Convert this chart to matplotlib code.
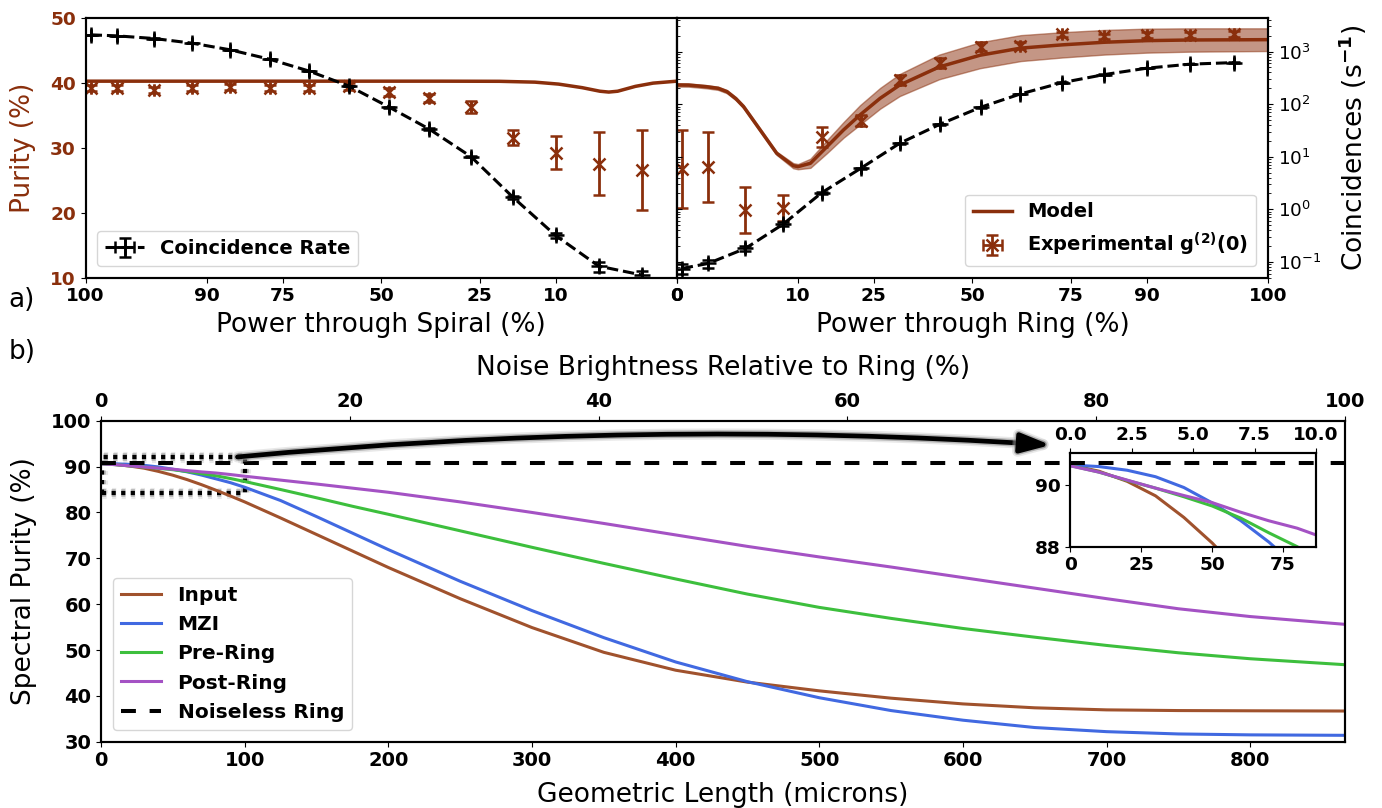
import numpy as np
import matplotlib.pyplot as plt
import matplotlib.patheffects as pe
from matplotlib.patches import Rectangle

plt.rcParams['mathtext.default'] = 'bf'

# ---------------- panel a) ----------------
# heater sweep position, as fraction of a pi/2 phase shift
phase_pts = [0.0085, 0.053, 0.116, 0.180, 0.245, 0.311, 0.377, 0.445,
             0.514, 0.581, 0.652, 0.723, 0.795, 0.868, 0.942]
power_ticks = [0, 10, 25, 50, 75, 90, 100]

# spiral sweep
spiral_rate = [2080, 1990, 1770, 1445, 1077, 716, 429, 222, 87, 33.7, 10.0,
               1.69, 0.318, 0.083, 0.056]
spiral_rate_err = [15, 15, 14, 12, 10, 8, 6, 4, 2.5, 1.0, 0.3, 0.1, 0.03,
                   0.018, 0.01]
spiral_purity = [39.2, 39.2, 38.9, 39.3, 39.4, 39.3, 39.3, 39.5, 38.6, 37.7,
                 36.3, 31.6, 29.3, 27.6, 26.6]
spiral_purity_err = [0.45, 0.45, 0.45, 0.45, 0.45, 0.45, 0.45, 0.5, 0.6, 0.6,
                     0.9, 1.15, 2.5, 4.8, 6.1]
spiral_model_phase = [0, 0.3, 0.6, 0.7, 0.76, 0.80, 0.84, 0.87, 0.885, 0.90,
                      0.93, 0.96, 1.0]
spiral_model = [40.3, 40.3, 40.3, 40.28, 40.15, 39.85, 39.3, 38.75, 38.62,
                38.75, 39.5, 40.0, 40.3]

# ring sweep
ring_rate = [0.0748, 0.0933, 0.180, 0.522, 2.06, 6.0, 18.0, 41.4, 87.3, 156,
             257, 365, 483, 576, 617]
ring_rate_err = [0.015, 0.017, 0.02, 0.04, 0.08, 0.2, 0.4, 0.6, 1.0, 1.3,
                 1.7, 2.0, 2.3, 2.5, 2.6]
ring_purity = [26.7, 27.1, 20.4, 20.8, 31.65, 34.2, 40.5, 43.1, 45.6, 45.8,
               47.5, 47.2, 47.4, 47.4, 47.6]
ring_purity_err = [6.0, 5.4, 3.55, 2.0, 1.55, 0.85, 0.75, 0.75, 0.7, 0.5,
                   0.45, 0.45, 0.45, 0.45, 0.45]
ring_model_phase = [0, 0.02, 0.05, 0.07, 0.085, 0.1, 0.113, 0.141, 0.169,
                    0.197, 0.205, 0.226, 0.254, 0.282, 0.31, 0.344, 0.377,
                    0.444, 0.513, 0.582, 0.652, 0.723, 0.795, 0.868, 1.0]
ring_model = [39.72, 39.7, 39.45, 39.2, 38.68, 37.6, 36.37, 32.78, 29.18,
              27.27, 27.12, 27.64, 30.2, 32.78, 35.1, 37.66, 39.7, 42.5, 44.3,
              45.4, 45.9, 46.3, 46.55, 46.65, 46.7]
ring_band_lo = [39.47, 39.45, 39.2, 38.95, 38.43, 37.35, 36.12, 32.53, 28.93,
                26.87, 26.72, 26.94, 29.2, 31.58, 33.6, 36.06, 38.0, 40.6,
                42.3, 43.4, 43.95, 44.4, 44.7, 44.85, 44.95]
ring_band_hi = [39.97, 39.95, 39.7, 39.45, 38.93, 37.85, 36.62, 33.03, 29.43,
                27.67, 27.52, 28.34, 31.2, 33.98, 36.6, 39.26, 41.4, 44.4,
                46.3, 47.4, 47.85, 48.2, 48.4, 48.45, 48.45]

# ---------------- panel b) ----------------
length_um = [0, 10, 20, 30, 40, 50, 60, 70, 80, 90, 100, 125, 150, 175, 200,
             250, 300, 350, 400, 450, 500, 550, 600, 650, 700, 750, 800, 866]
input_purity = [90.65, 90.45, 90.12, 89.65, 88.95, 88.12, 87.15, 86.05, 84.85,
                83.6, 82.3, 78.8, 75.2, 71.6, 68.0, 61.2, 54.9, 49.5, 45.6,
                43.0, 41.1, 39.5, 38.25, 37.4, 36.95, 36.8, 36.75, 36.7]
mzi_purity = [90.65, 90.6, 90.48, 90.27, 89.92, 89.42, 88.85, 88.15, 87.33,
              86.5, 85.5, 82.6, 79.1, 75.5, 71.9, 65.0, 58.6, 52.7, 47.4,
              43.1, 39.6, 36.8, 34.7, 33.1, 32.2, 31.7, 31.5, 31.4]
prering_purity = [90.63, 90.42, 90.15, 89.9, 89.62, 89.32, 88.93, 88.45, 88.0,
                  87.4, 86.75, 85.0, 83.2, 81.35, 79.6, 76.0, 72.4, 68.9,
                  65.5, 62.2, 59.3, 56.9, 54.7, 52.8, 51.0, 49.4, 48.1, 46.8]
postring_purity = [90.62, 90.42, 90.16, 89.9, 89.66, 89.43, 89.12, 88.84,
                   88.6, 88.27, 87.9, 87.05, 86.2, 85.3, 84.4, 82.3, 80.0,
                   77.6, 75.1, 72.6, 70.3, 68.1, 65.8, 63.5, 61.2, 59.0, 57.3,
                   55.6]
noiseless_purity = 90.7
max_length = 866

brown = '#8a2f0c'
cols = {'Input': '#a0522d', 'MZI': '#4169e1', 'Pre-Ring': '#3dbf3d',
        'Post-Ring': '#a452c4'}

fig = plt.figure(figsize=(13.82, 8.08), dpi=100)

ax1 = fig.add_axes([0.0620, 0.6563, 0.4277, 0.3211])
ax2 = fig.add_axes([0.4897, 0.6563, 0.4278, 0.3211])
ax1t = ax1.twinx()
ax2t = ax2.twinx()

# tick positions for power labels (ring gets sin^2, spiral cos^2)
ring_tick_pos = np.arcsin(np.sqrt(np.array(power_ticks) / 100)) * 2 / np.pi
spiral_tick_pos = 1 - ring_tick_pos

tfs = 13.3
lfs = 19
ekw = dict(capsize=4.5, elinewidth=2, capthick=1.8)

# left panel
ax1.plot(spiral_model_phase, spiral_model, color=brown, lw=2.5)
ax1.errorbar(phase_pts, spiral_purity, yerr=spiral_purity_err,
             xerr=np.zeros(len(phase_pts)), fmt='x', color=brown, ms=9,
             mew=1.8, **ekw)
ax1t.errorbar(phase_pts, spiral_rate, yerr=spiral_rate_err,
              xerr=np.zeros(len(phase_pts)), fmt='+--', color='k', ms=11,
              mew=1.8, lw=2.2, label='Coincidence Rate', **ekw)

# right panel
ax2.fill_between(ring_model_phase, ring_band_lo, ring_band_hi, color=brown,
                 alpha=0.5, lw=1)
ax2.plot(ring_model_phase, ring_model, color=brown, lw=2.5, label='Model')
ax2.errorbar(phase_pts, ring_purity, yerr=ring_purity_err,
             xerr=np.zeros(len(phase_pts)), fmt='x', color=brown, ms=9,
             mew=1.8, label=r'Experimental g$^{(2)}$(0)', **ekw)
ax2t.errorbar(phase_pts, ring_rate, yerr=ring_rate_err,
              xerr=np.zeros(len(phase_pts)), fmt='+--', color='k', ms=11,
              mew=1.8, lw=2.2, **ekw)

for ax in (ax1, ax2):
    ax.set_xlim(0, 1)
    ax.set_ylim(10, 50)
for ax in (ax1t, ax2t):
    ax.set_yscale('log')
    ax.set_ylim(0.05, 4300)

ax1.set_xticks(spiral_tick_pos)
ax1.set_xticklabels([str(p) for p in power_ticks], fontsize=tfs,
                    fontweight='bold')
ax2.set_xticks(ring_tick_pos)
ax2.set_xticklabels([str(p) for p in power_ticks], fontsize=tfs,
                    fontweight='bold')
ax1.set_yticks([10, 20, 30, 40, 50])
ax1.set_yticklabels(['10', '20', '30', '40', '50'], fontsize=tfs,
                    fontweight='bold', color=brown)
ax1.set_ylabel('Purity (%)', color=brown, fontsize=lfs, labelpad=10)
ax1.set_xlabel('Power through Spiral (%)', fontsize=lfs, labelpad=5)
ax2.set_xlabel('Power through Ring (%)', fontsize=lfs, labelpad=5)
ax2.tick_params(left=False, labelleft=False)
ax1t.tick_params(labelright=False)
ax2t.tick_params(axis='y', labelsize=tfs)
ax2t.set_ylabel('Coincidences (s$^{-1}$)', fontsize=lfs, labelpad=11)
for ax in (ax1, ax2, ax1t, ax2t):
    for s in ax.spines.values():
        s.set_linewidth(1.5)

leg_prop = {'weight': 'bold', 'size': 14}
ax1t.legend(loc='lower left', prop=leg_prop, borderaxespad=0.6)
ax2.legend(loc='lower right', prop=leg_prop, borderaxespad=0.6)

fig.text(0.006, 1 - 300 / 808, 'a)', fontsize=lfs, va='center')
fig.text(0.006, 1 - 352 / 808, 'b)', fontsize=lfs, va='center')

# ---------------- bottom panel ----------------
axb = fig.add_axes([0.0731, 0.0820, 0.9001, 0.3973])
series = [('Input', input_purity), ('MZI', mzi_purity),
          ('Pre-Ring', prering_purity), ('Post-Ring', postring_purity)]
for name, vals in series:
    axb.plot(length_um, vals, color=cols[name], lw=2.2, label=name)
axb.axhline(noiseless_purity, color='k', lw=2.9, dashes=(3.7, 3.4),
            label='Noiseless Ring')
axb.set_xlim(0, max_length)
axb.set_ylim(30, 100)
axb.set_yticks(range(30, 101, 10))
axb.set_xticks(range(0, 801, 100))
axb.tick_params(labelsize=14)
for lab in axb.get_xticklabels() + axb.get_yticklabels():
    lab.set_fontweight('bold')
axb.set_xlabel('Geometric Length (microns)', fontsize=lfs, labelpad=8)
axb.set_ylabel('Spectral Purity (%)', fontsize=lfs, labelpad=10)
axb.legend(loc='lower left', prop={'weight': 'bold', 'size': 14.5},
           borderaxespad=0.6)

axbt = axb.twiny()
axbt.set_xlim(0, 100)
axbt.set_xticks(range(0, 101, 20))
axbt.tick_params(labelsize=14)
for lab in axbt.get_xticklabels():
    lab.set_fontweight('bold')
axbt.set_xlabel('Noise Brightness Relative to Ring (%)', fontsize=lfs,
                labelpad=12)
for ax in (axb, axbt):
    for s in ax.spines.values():
        s.set_linewidth(1.5)

# zoom box + arrow
glow = [pe.Stroke(linewidth=8, foreground='0.75', alpha=0.35),
        pe.Stroke(linewidth=5.5, foreground='0.45', alpha=0.45), pe.Normal()]
rect = Rectangle((1, 84.3), 99, 7.8, fill=False, ec='k', lw=3,
                 ls=(0, (1, 1.3)))
rect.set_path_effects(glow)
axb.add_patch(rect)
ann = axb.annotate('', xy=(661, 94.7), xytext=(95, 92.1),
                   arrowprops=dict(arrowstyle='-|>,head_length=1.8,head_width=0.6',
                                   color='k', lw=3.4,
                                   connectionstyle='arc3,rad=-0.04',
                                   shrinkA=0, shrinkB=0))
ann.arrow_patch.set_path_effects(glow)

# inset
axi = fig.add_axes([0.7746, 0.3234, 0.1776, 0.1156])
for name, vals in series:
    axi.plot(length_um, vals, color=cols[name], lw=2.2)
axi.axhline(noiseless_purity, color='k', lw=2.9, dashes=(3.7, 3.4))
axi.set_xlim(0, max_length / 10)
axi.set_ylim(88, 91.03)
axi.set_yticks([88, 90])
axi.set_xticks([0, 25, 50, 75])
axi.tick_params(labelsize=tfs)
for lab in axi.get_xticklabels() + axi.get_yticklabels():
    lab.set_fontweight('bold')
axit = axi.twiny()
axit.set_xlim(0, 10)
axit.set_xticks([0, 2.5, 5, 7.5, 10])
axit.set_xticklabels(['0.0', '2.5', '5.0', '7.5', '10.0'])
axit.tick_params(labelsize=tfs)
for lab in axit.get_xticklabels():
    lab.set_fontweight('bold')
for ax in (axi, axit):
    for s in ax.spines.values():
        s.set_linewidth(1.5)

fig.savefig('out.png', dpi=100)
